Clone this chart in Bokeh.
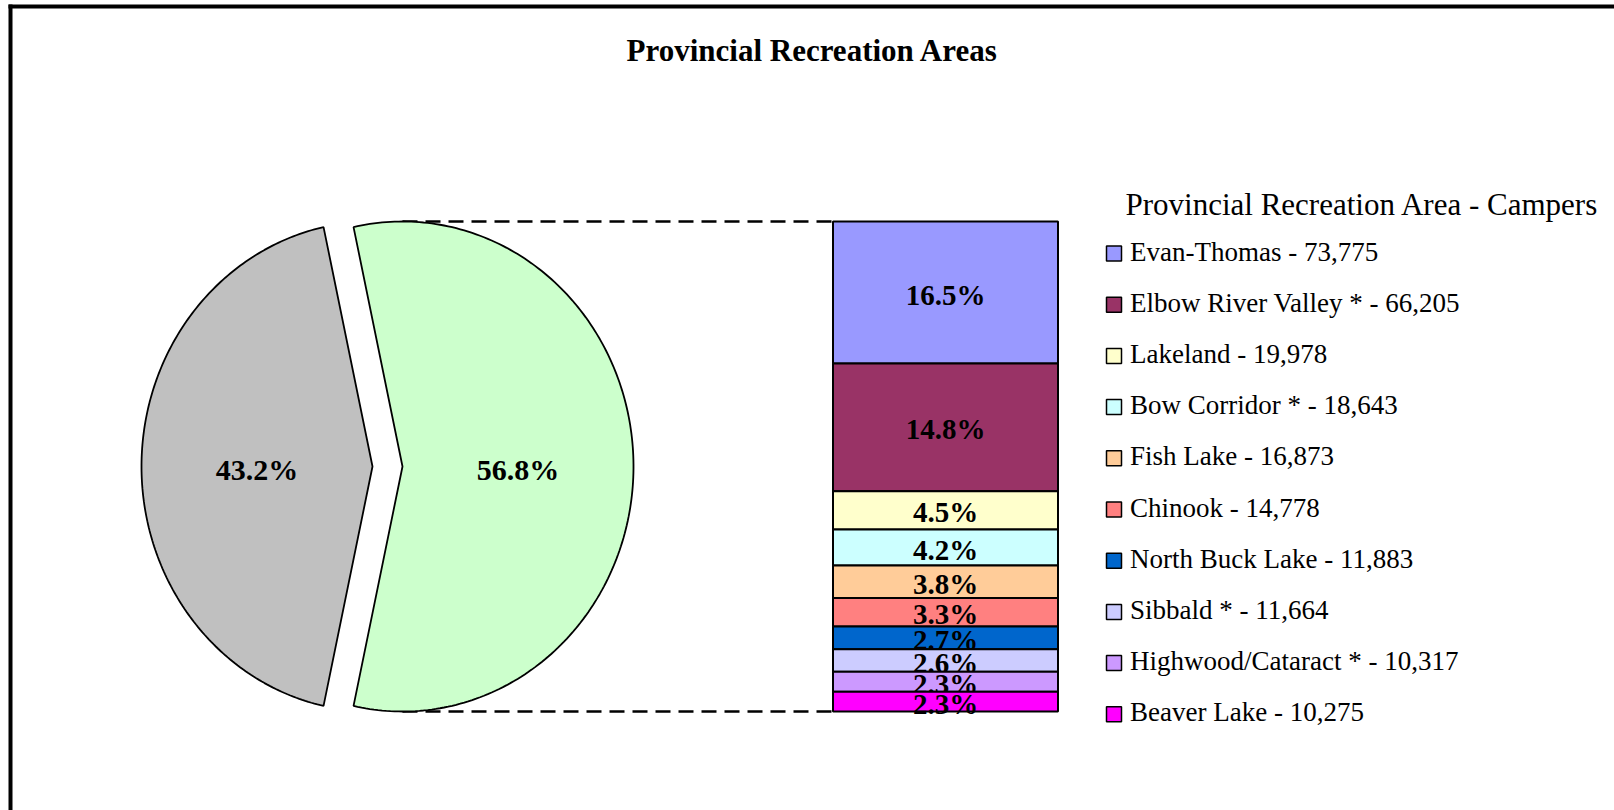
import numpy as np
from bokeh.plotting import figure
from bokeh.models import ColumnDataSource, Range1d, CDSView, IndexFilter
from bokeh.core.properties import value
from bokeh.embed import file_html
from bokeh.resources import INLINE

# ---------------- data ----------------
title = "Provincial Recreation Areas"
legend_title = "Provincial Recreation Area - Campers"
names = ["Evan-Thomas", "Elbow River Valley *", "Lakeland", "Bow Corridor *",
         "Fish Lake", "Chinook", "North Buck Lake", "Sibbald *",
         "Highwood/Cataract * ", "Beaver Lake"]
campers = [73775, 66205, 19978, 18643, 16873, 14778, 11883, 11664, 10317, 10275]
bar_colors = ["#9999FF", "#993366", "#FFFFCC", "#CCFFFF", "#FFCC99",
              "#FF8080", "#0066CC", "#CCCCFF", "#CC99FF", "#FF00FF"]
other_campers = 193500          # estimated: remaining areas (43.2%)
pie_colors = ["#C0C0C0", "#CCFFCC"]   # other, top-10 group

# ---------------- layout (page pixels) ----------------
FONT = value("Liberation Serif")
W, H = 1614, 810
pie_cy, rx, ry = 466, 231, 245
other_cx, group_cx = 372, 402
bar_left, bar_right, bar_top = 832.5, 1057.5, 221
bar_h = 2 * ry
leg_x, leg_y0, leg_dy = 1105.5, 261, 51.2

p = figure(width=W, height=H, x_range=Range1d(0, W), y_range=Range1d(H, 0),
           output_backend="svg", toolbar_location=None, min_border=0,
           x_axis_type=None, y_axis_type=None)
p.grid.visible = False
p.outline_line_color = None
p.background_fill_color = "white"

total = sum(campers) + other_campers
group = sum(campers)

# frame border (top and left visible)
p.segment(x0=[10, 8], y0=[4, 6], x1=[10, W], y1=[H, 6],
          line_color="black", line_width=4)

# title
p.text(x=[812], y=[50], text=[title], text_font=FONT, text_font_size="31px",
       text_font_style="bold", text_align="center", text_baseline="middle",
       text_color="black")

# dashed connector lines (drawn before pie)
p.segment(x0=[group_cx, group_cx], y0=[bar_top, bar_top + bar_h],
          x1=[bar_left, bar_left], y1=[bar_top, bar_top + bar_h],
          line_color="black", line_width=2.5, line_dash="15 8")

# ---------------- pie ----------------
shares = [other_campers / total, group / total]
centers = [other_cx, group_cx]
mids = [np.pi, 0.0]
xs, ys, lx, ly, ltxt = [], [], [], [], []
for s, cx, m in zip(shares, centers, mids):
    a = 2 * np.pi * s
    t = np.linspace(m - a / 2, m + a / 2, 200)
    xs.append(np.concatenate([[cx], cx + rx * np.cos(t), [cx]]))
    ys.append(np.concatenate([[pie_cy], pie_cy - ry * np.sin(t), [pie_cy]]))
    lx.append(cx + 0.5 * rx * np.cos(m))
    ly.append(pie_cy + 3)
    ltxt.append(f"{s * 100:.1f}%")
p.patches(xs=xs, ys=ys, fill_color=pie_colors, line_color="black", line_width=1.8)
p.text(x=lx, y=ly, text=ltxt, text_font=FONT, text_font_size="30px",
       text_font_style="bold", text_align="center", text_baseline="middle",
       text_color="black")

# ---------------- stacked bar ----------------
scale = bar_h / group
cum = np.cumsum([0] + campers)
tops = bar_top + cum[:-1] * scale
bots = bar_top + cum[1:] * scale
src = ColumnDataSource(dict(
    left=[bar_left] * len(campers), right=[bar_right] * len(campers),
    top=tops, bottom=bots, color=bar_colors,
    xc=[(bar_left + bar_right) / 2] * len(campers),
    yc=(tops + bots) / 2 + 2,
    pct=[f"{v / total * 100:.1f}%" for v in campers],
))
for i in range(len(campers)):
    view = CDSView(filter=IndexFilter([i]))
    p.quad(left="left", right="right", top="top", bottom="bottom", source=src,
           view=view, fill_color="color", line_color="black", line_width=2)
    p.text(x="xc", y="yc", text="pct", source=src, view=view, text_font=FONT,
           text_font_size="29px", text_font_style="bold", text_align="center",
           text_baseline="middle", text_color="black")

# ---------------- legend ----------------
p.text(x=[1125], y=[203.5], text=[legend_title], text_font=FONT, text_font_size="31px",
       text_align="left", text_baseline="middle", text_color="black")
leg_base = [leg_y0 + leg_dy * i for i in range(len(campers))]
leg_src = ColumnDataSource(dict(
    x=[leg_x + 8] * len(campers),
    y=[b - 8 for b in leg_base],
    tx=[leg_x + 24] * len(campers),
    ty=[b - 10 for b in leg_base],
    color=bar_colors,
    label=[f"{n} - {v:,}" for n, v in zip(names, campers)],
))
p.rect(x="x", y="y", width=15, height=15, width_units="screen", height_units="screen",
       source=leg_src, fill_color="color", line_color="black", line_width=1.5)
p.text(x="tx", y="ty", text="label", source=leg_src, text_font=FONT,
       text_font_size="27px", text_align="left", text_baseline="middle",
       text_color="black")

open("out.html", "w").write(file_html(p, INLINE))
